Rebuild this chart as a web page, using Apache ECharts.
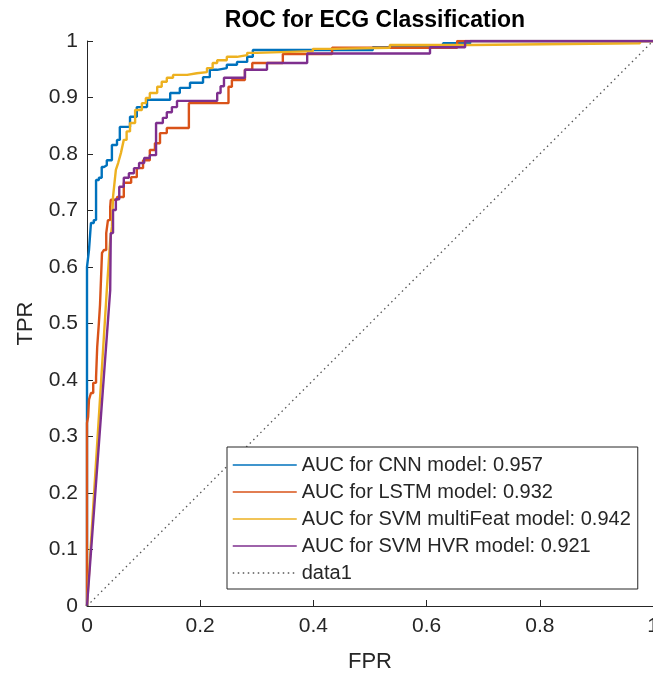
<!DOCTYPE html>
<html><head><meta charset="utf-8">
<script src="https://cdn.jsdelivr.net/npm/echarts@6/dist/echarts.min.js"></script>
<style>html,body{margin:0;padding:0;background:#fff}#c{width:653px;height:675px}</style>
</head><body><div id="c"></div>
<script>
const FONT = "'Liberation Sans', Arial, Helvetica, sans-serif";
const seriesNames = ['AUC for CNN model: 0.957','AUC for LSTM model: 0.932','AUC for SVM multiFeat model: 0.942','AUC for SVM HVR model: 0.921','data1'];

// [FPR, TPR] vertices
const cnnPoints = [[0,0],[0,0.600],[0.0035,0.600],[0.0035,0.630],[0.007,0.630],[0.007,0.678],[0.012,0.678],[0.012,0.683],[0.016,0.683],[0.016,0.754],[0.021,0.754],[0.021,0.758],[0.026,0.758],[0.026,0.777],[0.030,0.777],[0.030,0.780],[0.035,0.780],[0.035,0.789],[0.044,0.789],[0.044,0.816],[0.053,0.816],[0.053,0.825],[0.058,0.825],[0.058,0.848],[0.076,0.848],[0.076,0.866],[0.088,0.866],[0.088,0.883],[0.106,0.883],[0.106,0.896],[0.147,0.896],[0.147,0.908],[0.164,0.908],[0.164,0.917],[0.182,0.917],[0.182,0.926],[0.205,0.926],[0.205,0.936],[0.217,0.936],[0.217,0.949],[0.230,0.949],[0.230,0.952],[0.247,0.952],[0.247,0.958],[0.265,0.958],[0.265,0.963],[0.283,0.963],[0.283,0.972],[0.293,0.972],[0.293,0.984],[0.505,0.984],[0.505,0.989],[0.629,0.989],[0.629,0.996],[0.677,0.996],[0.677,1],[1,1]];

const lstmPoints = [[0,0],[0,0.324],[0.002,0.324],[0.002,0.335],[0.0035,0.335],[0.0035,0.365],[0.007,0.365],[0.007,0.377],[0.011,0.377],[0.011,0.395],[0.016,0.395],[0.016,0.405],[0.018,0.405],[0.018,0.458],[0.021,0.458],[0.021,0.501],[0.023,0.501],[0.023,0.533],[0.0265,0.533],[0.0265,0.625],[0.030,0.625],[0.030,0.630],[0.034,0.630],[0.034,0.660],[0.037,0.660],[0.037,0.683],[0.041,0.683],[0.041,0.706],[0.042,0.706],[0.042,0.719],[0.053,0.719],[0.053,0.724],[0.065,0.724],[0.065,0.749],[0.078,0.749],[0.078,0.759],[0.088,0.759],[0.088,0.775],[0.099,0.775],[0.099,0.789],[0.111,0.789],[0.111,0.807],[0.120,0.807],[0.120,0.819],[0.129,0.819],[0.129,0.837],[0.141,0.837],[0.141,0.846],[0.180,0.846],[0.180,0.890],[0.250,0.890],[0.250,0.919],[0.256,0.919],[0.256,0.931],[0.279,0.931],[0.279,0.949],[0.292,0.949],[0.292,0.961],[0.346,0.961],[0.346,0.977],[0.433,0.977],[0.433,0.988],[0.654,0.988],[0.654,1],[1,1]];

const svmMultiPoints = [[0,0],[0.035,0.559],[0.041,0.648],[0.044,0.671],[0.046,0.724],[0.051,0.772],[0.055,0.784],[0.060,0.802],[0.065,0.825],[0.070,0.825],[0.070,0.840],[0.076,0.840],[0.076,0.855],[0.085,0.855],[0.085,0.878],[0.097,0.878],[0.097,0.890],[0.104,0.890],[0.104,0.899],[0.111,0.899],[0.111,0.908],[0.124,0.908],[0.124,0.919],[0.132,0.919],[0.132,0.928],[0.141,0.928],[0.141,0.935],[0.152,0.935],[0.152,0.940],[0.177,0.940],[0.177,0.943],[0.194,0.943],[0.194,0.945],[0.212,0.945],[0.212,0.952],[0.222,0.952],[0.222,0.961],[0.230,0.961],[0.230,0.966],[0.247,0.966],[0.247,0.972],[0.265,0.972],[0.265,0.975],[0.283,0.975],[0.283,0.979],[0.300,0.979],[0.300,0.982],[0.399,0.982],[0.399,0.986],[0.435,0.986],[0.435,0.988],[0.535,0.988],[0.535,0.993],[0.677,0.993],[0.677,0.996],[0.977,0.996],[0.977,1],[1,1]];

const svmHvrPoints = [[0,0],[0.041,0.559],[0.042,0.660],[0.046,0.660],[0.046,0.701],[0.051,0.701],[0.051,0.720],[0.057,0.720],[0.057,0.742],[0.065,0.742],[0.065,0.758],[0.074,0.758],[0.074,0.766],[0.083,0.766],[0.083,0.775],[0.092,0.775],[0.092,0.784],[0.101,0.784],[0.101,0.793],[0.111,0.793],[0.111,0.798],[0.122,0.798],[0.122,0.855],[0.134,0.855],[0.134,0.864],[0.141,0.864],[0.141,0.874],[0.150,0.874],[0.150,0.883],[0.159,0.883],[0.159,0.894],[0.230,0.894],[0.230,0.908],[0.236,0.908],[0.236,0.920],[0.242,0.920],[0.242,0.935],[0.279,0.935],[0.279,0.949],[0.318,0.949],[0.318,0.961],[0.389,0.961],[0.389,0.978],[0.606,0.978],[0.606,0.989],[0.668,0.989],[0.668,1],[1,1]];

const chancePoints = [[0,0],[1,1]];

const colors = ['#0072BD','#D95319','#EDB120','#7E2F8E','#555555'];
const AX = '#262626';

const chart = echarts.init(document.getElementById('c'), null, {renderer:'canvas'});
function curve(name, data, color) {
  return {type:'line', name, data, symbol:'none', showSymbol:false, animation:false,
    lineStyle:{color, width:2.4}, itemStyle:{color}};
}
chart.setOption({
  animation:false,
  backgroundColor:'#fff',
  title:{text:'ROC for ECG Classification', left:370, top:4, textAlign:'center',
    textStyle:{fontFamily:FONT, fontSize:23, fontWeight:'bold', color:'#000'}},
  grid:{left:87, top:41, right:0, bottom:69, containLabel:false, outerBoundsMode:'none'},
  xAxis:{type:'value', min:0, max:1, interval:0.2,
    name:'FPR', nameLocation:'middle', nameGap:45,
    nameTextStyle:{fontFamily:FONT, fontSize:22, color:AX},
    axisLine:{lineStyle:{color:AX, width:1}},
    axisTick:{inside:true, length:6, lineStyle:{color:AX}},
    axisLabel:{fontFamily:FONT, fontSize:21, color:AX, margin:10},
    splitLine:{show:false}},
  yAxis:{type:'value', min:0, max:1, interval:0.1,
    name:'TPR', nameLocation:'middle', nameGap:50,
    nameTextStyle:{fontFamily:FONT, fontSize:22, color:AX},
    axisLine:{lineStyle:{color:AX, width:1}},
    axisTick:{inside:true, length:6, lineStyle:{color:AX}},
    axisLabel:{fontFamily:FONT, fontSize:21, color:AX, margin:9},
    splitLine:{show:false}},
  legend:{orient:'vertical', left:227, top:447, data:seriesNames,
    backgroundColor:'#fff', borderColor:AX, borderWidth:1, borderRadius:0,
    padding:[8,7,6,5], itemWidth:64, itemHeight:14, itemGap:7,
    lineStyle:{width:1.5}, itemStyle:{opacity:0},
    textStyle:{fontFamily:FONT, fontSize:20, lineHeight:20, color:AX}},
  series:[
    curve(seriesNames[0], cnnPoints, colors[0]),
    curve(seriesNames[1], lstmPoints, colors[1]),
    curve(seriesNames[2], svmMultiPoints, colors[2]),
    curve(seriesNames[3], svmHvrPoints, colors[3]),
    {type:'line', name:seriesNames[4], data:chancePoints, symbol:'none', showSymbol:false, animation:false,
      lineStyle:{color:colors[4], width:1.3, type:[1.5,3.5]}, itemStyle:{color:colors[4]}}
  ]
});
</script></body></html>
